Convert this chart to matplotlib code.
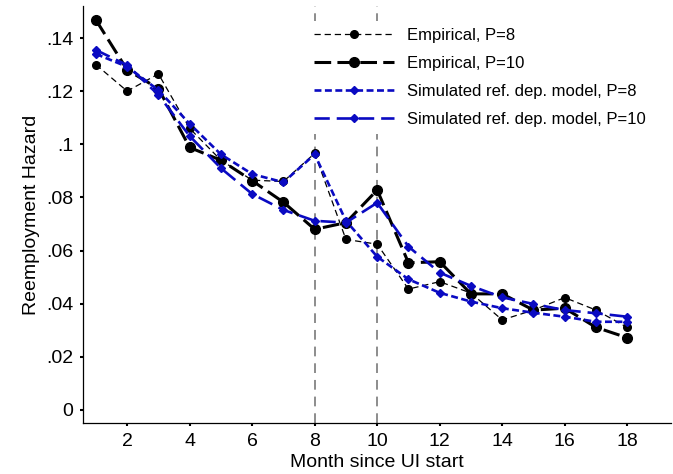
import matplotlib
matplotlib.use("Agg")
import matplotlib.pyplot as plt

months = list(range(1, 19))
emp_p8 = [0.130, 0.120, 0.1265, 0.106, 0.094, 0.0865, 0.086, 0.0966, 0.0642, 0.0624,
          0.0455, 0.0483, 0.0440, 0.0339, 0.0376, 0.0423, 0.0376, 0.0311]
emp_p10 = [0.1468, 0.128, 0.121, 0.0988, 0.0940, 0.0863, 0.0782, 0.0680, 0.0705, 0.0828,
           0.0554, 0.0558, 0.0437, 0.0437, 0.0376, 0.0383, 0.0311, 0.0272]
sim_p8 = [0.1340, 0.1292, 0.1204, 0.1077, 0.0962, 0.0888, 0.0857, 0.0962, 0.0712, 0.0577,
          0.0492, 0.0441, 0.0408, 0.0383, 0.0366, 0.0351, 0.0332, 0.0332]
sim_p10 = [0.1355, 0.1298, 0.1186, 0.1031, 0.0910, 0.0813, 0.0753, 0.0712, 0.0705, 0.0780,
           0.0615, 0.0517, 0.0467, 0.0424, 0.0399, 0.0376, 0.0364, 0.0351]
vlines = [8, 10]
xticks = [2, 4, 6, 8, 10, 12, 14, 16, 18]
yticks = [0, 0.02, 0.04, 0.06, 0.08, 0.10, 0.12, 0.14]
ytick_labels = ["0", ".02", ".04", ".06", ".08", ".1", ".12", ".14"]
labels = ["Empirical, P=8", "Empirical, P=10",
          "Simulated ref. dep. model, P=8", "Simulated ref. dep. model, P=10"]

plt.rcParams['font.family'] = ['Liberation Sans', 'DejaVu Sans']
plt.rcParams['lines.scale_dashes'] = False

fig = plt.figure(figsize=(6.73, 4.74), dpi=100)
# axes: left spine x~83px, bottom spine y~423px, top ~6px
ax = fig.add_axes([0.123, 0.1076, 0.874, 0.880])

blue = '#0a0ac2'
for v in vlines:
    ax.axvline(v, color='#8c8c8c', lw=1.4, dashes=(7, 5), zorder=1)

ax.plot(months, emp_p8, color='black', lw=0.9, dashes=(4.5, 2.8),
        marker='o', ms=5.5, label=labels[0], zorder=3)
ax.plot(months, emp_p10, color='black', lw=2.2, dashes=(12, 4.5),
        marker='o', ms=7, label=labels[1], zorder=3)
ax.plot(months, sim_p8, color=blue, lw=1.9, dashes=(5, 2.5),
        marker='D', ms=4, label=labels[2], zorder=4)
ax.plot(months, sim_p10, color=blue, lw=1.9, dashes=(11, 5),
        marker='D', ms=4, label=labels[3], zorder=4)

ax.set_xlim(0.58, 19.4)
ax.set_ylim(-0.0049, 0.1521)
ax.set_xticks(xticks)
ax.set_xticklabels([str(t) for t in xticks])
ax.set_yticks(yticks)
ax.set_yticklabels(ytick_labels)
ax.tick_params(axis='both', direction='out', length=2, width=1.5, labelsize=14, pad=5)
for s in ['top', 'right']:
    ax.spines[s].set_visible(False)
for s in ['left', 'bottom']:
    ax.spines[s].set_linewidth(0.9)

ax.set_xlabel("Month since UI start", fontsize=14, labelpad=3)
ax.set_ylabel("Reemployment Hazard", fontsize=14, labelpad=4)

leg = ax.legend(loc='upper left', bbox_to_anchor=(0.456, 0.955), bbox_transform=fig.transFigure,
                frameon=True, fancybox=False, edgecolor='none', facecolor='white', framealpha=1,
                borderpad=0.4, fontsize=12, handlelength=4.8, handletextpad=0.8,
                labelspacing=0.78, borderaxespad=0, numpoints=1)
leg.set_zorder(10)

fig.savefig("out.png", dpi=100)
